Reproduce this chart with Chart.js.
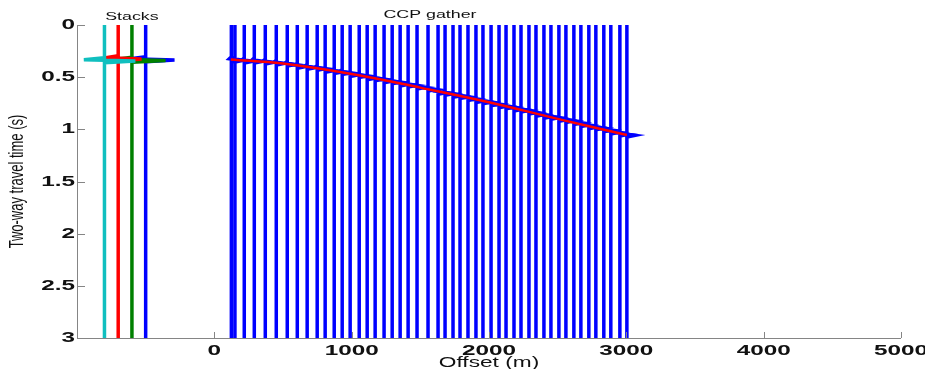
<!DOCTYPE html>
<html>
<head>
<meta charset="utf-8">
<script src="https://cdn.jsdelivr.net/npm/chart.js@4/dist/chart.umd.min.js"></script>
<style>
  html, body { margin: 0; padding: 0; background: #fff; }
  #wrap { width: 925px; height: 369px; }
</style>
</head>
<body>
<div id="wrap"><canvas id="myChart" width="925" height="369"></canvas></div>
<script>
// stacks (left panel)
const stackOffsets = [-800, -700, -600, -500];
const stackColors = ['#10bfbf', '#ff0000', '#008000', '#0000ff'];
const stackPickTimes = [0.34, 0.32, 0.335, 0.33];
const stackLeftAmp = [150, 90, 110, 110];
const stackRightAmp = [225, 170, 245, 210];
const stackWaveletTimes = [-0.025, -0.006, 0.005, 0.022];

// CCP gather traces (offset in m, pick time in s)
const gatherOffsets = [124, 150, 218, 291, 371, 451, 531, 604, 676, 749,
  807, 873, 931, 989, 1055, 1113, 1171, 1236, 1295, 1353,
  1411, 1476, 1556, 1629, 1680, 1738, 1789, 1847, 1905, 1956,
  2015, 2073, 2124, 2182, 2233, 2291, 2342, 2400, 2451, 2509,
  2560, 2618, 2669, 2727, 2778, 2836, 2887, 2953, 3004];
const gatherPickTimes = [0.33, 0.33, 0.34, 0.34, 0.35, 0.36, 0.37, 0.39, 0.40, 0.41,
  0.43, 0.44, 0.45, 0.47, 0.48, 0.50, 0.51, 0.53, 0.54, 0.56,
  0.57, 0.59, 0.61, 0.64, 0.65, 0.67, 0.68, 0.70, 0.72, 0.73,
  0.75, 0.77, 0.78, 0.80, 0.81, 0.83, 0.85, 0.87, 0.88, 0.90,
  0.91, 0.93, 0.95, 0.97, 0.98, 1.00, 1.02, 1.04, 1.05];
const gatherWaveletTimes = [-0.025, -0.006, 0.008, 0.024];
const gatherWaveletAmps = [0, -15, 60, 0];

// red moveout curve
const moveoutOffsets = [120, 500, 1000, 1500, 2000, 2500, 3004];
const moveoutTimes = [0.33, 0.37, 0.47, 0.60, 0.74, 0.90, 1.055];

const xTicks = [0, 1000, 2000, 3000, 4000, 5000];
const yTicks = [0, 0.5, 1, 1.5, 2, 2.5, 3];
const yTickLabels = ['0', '0.5', '1', '1.5', '2', '2.5', '3'];

const TMAX = 3;
const STRETCH = 1.62;

function tracePoints(off, t, times, amps) {
    const pts = [{x: off, y: 0}];
    times.forEach((dt, i) => pts.push({x: off + amps[i], y: t + dt}));
    pts.push({x: off, y: TMAX});
    return pts;
}

const datasets = [];

datasets.push({
    data: moveoutOffsets.map((o, i) => ({x: o, y: moveoutTimes[i]})),
    borderColor: '#ff0000',
    borderWidth: 2.5,
    tension: 0.4,
    order: 0
});

stackOffsets.forEach((off, i) => {
    datasets.push({
        data: tracePoints(off, stackPickTimes[i], stackWaveletTimes,
            [0, -stackLeftAmp[i], stackRightAmp[i], 0]),
        borderColor: stackColors[i],
        borderWidth: 3.5,
        order: 1
    });
});

gatherOffsets.forEach((off, i) => {
    datasets.push({
        data: tracePoints(off, gatherPickTimes[i], gatherWaveletTimes, gatherWaveletAmps),
        borderColor: '#0000ff',
        borderWidth: 3.5,
        order: 1
    });
});

function stretchedText(ctx, text, x, y, font, align, baseline, rotate) {
    ctx.save();
    ctx.translate(x, y);
    ctx.scale(STRETCH, 1);
    if (rotate) ctx.rotate(-Math.PI / 2);
    ctx.font = font;
    ctx.textAlign = align;
    ctx.textBaseline = baseline;
    ctx.fillStyle = '#111';
    ctx.fillText(text, 0, 0);
    ctx.restore();
}

// matlab style axes: lines, inward ticks, stretched labels
const axesPlugin = {
    id: 'matlabAxes',
    afterDraw(chart) {
        const ctx = chart.ctx;
        const area = chart.chartArea;
        const xs = chart.scales.x, ys = chart.scales.y;
        ctx.save();
        ctx.strokeStyle = '#858585';
        ctx.lineWidth = 1;
        ctx.beginPath();
        ctx.moveTo(area.left + 0.5, area.top);
        ctx.lineTo(area.left + 0.5, area.bottom + 0.5);
        ctx.lineTo(area.right, area.bottom + 0.5);
        yTicks.forEach(v => {
            const py = Math.round(ys.getPixelForValue(v)) + 0.5;
            ctx.moveTo(area.left, py);
            ctx.lineTo(area.left + 8, py);
        });
        xTicks.forEach(v => {
            const px = Math.round(xs.getPixelForValue(v)) + 0.5;
            ctx.moveTo(px, area.bottom);
            ctx.lineTo(px, area.bottom - 6);
        });
        ctx.stroke();
        ctx.restore();

        yTicks.forEach((v, i) => {
            stretchedText(ctx, yTickLabels[i], area.left - 2, ys.getPixelForValue(v),
                'bold 15px "Liberation Sans", Arial, sans-serif', 'right', 'middle');
        });
        xTicks.forEach(v => {
            stretchedText(ctx, String(v), xs.getPixelForValue(v), area.bottom + 5,
                'bold 15px "Liberation Sans", Arial, sans-serif', 'center', 'top');
        });
        stretchedText(ctx, 'Offset (m)', (area.left + area.right) / 2, 367,
            '14px "Liberation Sans", Arial, sans-serif', 'center', 'alphabetic');
        stretchedText(ctx, 'Two-way travel time (s)', 17, (area.top + area.bottom) / 2,
            '13px "Liberation Sans", Arial, sans-serif', 'center', 'middle', true);
        stretchedText(ctx, 'Stacks', xs.getPixelForValue(-600), 20,
            '11px "Liberation Sans", Arial, sans-serif', 'center', 'alphabetic');
        stretchedText(ctx, 'CCP gather', xs.getPixelForValue(1570), 18,
            '11px "Liberation Sans", Arial, sans-serif', 'center', 'alphabetic');
    }
};

const config = {
    type: 'scatter',
    data: { datasets: datasets },
    options: {
        responsive: false,
        animation: false,
        showLine: true,
        elements: {
            point: { radius: 0, hoverRadius: 0 },
            line: { fill: false, tension: 0, borderCapStyle: 'butt' }
        },
        layout: { padding: { left: 77, right: 24, top: 25, bottom: 31 } },
        scales: {
            x: { type: 'linear', min: -1000, max: 5000, display: false },
            y: { type: 'linear', min: 0, max: TMAX, reverse: true, display: false }
        },
        plugins: {
            legend: { display: false },
            tooltip: { enabled: false }
        }
    },
    plugins: [axesPlugin]
};

const myChart = new Chart(document.getElementById('myChart').getContext('2d'), config);
</script>
</body>
</html>
